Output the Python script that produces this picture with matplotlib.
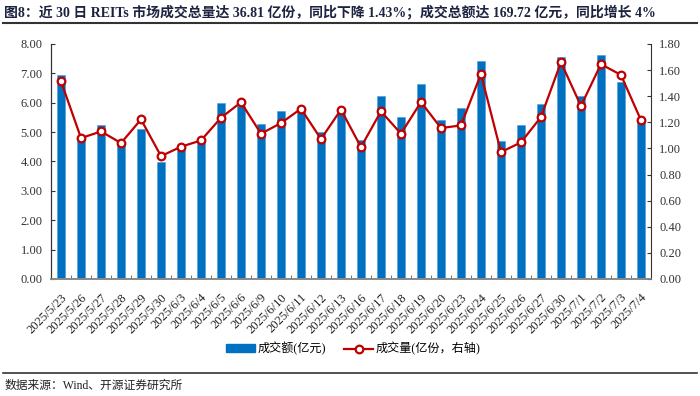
import numpy as np
import matplotlib
matplotlib.use("Agg")
import matplotlib.pyplot as plt
from matplotlib.lines import Line2D

plt.rcParams['font.family'] = ['Liberation Serif', 'Noto Sans CJK SC', 'DejaVu Sans']
plt.rcParams['axes.unicode_minus'] = False

dates = ["2025/5/23", "2025/5/26", "2025/5/27", "2025/5/28", "2025/5/29", "2025/5/30",
         "2025/6/3", "2025/6/4", "2025/6/5", "2025/6/6", "2025/6/9", "2025/6/10",
         "2025/6/11", "2025/6/12", "2025/6/13", "2025/6/16", "2025/6/17", "2025/6/18",
         "2025/6/19", "2025/6/20", "2025/6/23", "2025/6/24", "2025/6/25", "2025/6/26",
         "2025/6/27", "2025/6/30", "2025/7/1", "2025/7/2", "2025/7/3", "2025/7/4"]
# 成交额 (亿元), left axis
amount = [6.95, 4.80, 5.24, 4.62, 5.12, 3.99, 4.42, 4.68, 5.98, 5.90,
          5.27, 5.72, 5.72, 4.99, 5.65, 4.74, 6.24, 5.51, 6.65, 5.42,
          5.81, 7.41, 4.68, 5.24, 5.95, 7.56, 6.22, 7.61, 6.70, 5.35]
# 成交量 (亿份), right axis
volume = [1.514, 1.079, 1.130, 1.041, 1.222, 0.941, 1.013, 1.061, 1.235, 1.353,
          1.113, 1.194, 1.304, 1.072, 1.297, 1.010, 1.284, 1.113, 1.355, 1.156,
          1.176, 1.570, 0.972, 1.046, 1.240, 1.660, 1.325, 1.645, 1.563, 1.217]

bar_color = "#0070C0"
line_color = "#C00000"
x = np.arange(len(dates))

fig = plt.figure(figsize=(7, 3.96), dpi=100)
ax = fig.add_axes([0.0729, 0.2955, 0.857, 0.5935])
ax.bar(x, amount, width=0.38, color=bar_color, edgecolor="#4a9ad8", linewidth=0.4, zorder=2)
ax.set_xlim(-0.5, len(dates) - 0.5)
ax.set_ylim(0, 8)
ax.set_yticks(np.arange(0, 8.01, 1))
ax.set_yticklabels(["%.2f" % v for v in np.arange(0, 8.01, 1)], fontsize=9, color="#333333")

ax2 = ax.twinx()
ax2.plot(x, volume, color=line_color, lw=1.6, marker="o", ms=5.5,
         mfc="white", mec=line_color, mew=1.6, zorder=3)
ax2.set_ylim(0, 1.8)
ax2.set_yticks(np.arange(0, 1.81, 0.2))
ax2.set_yticklabels(["%.2f" % v for v in np.arange(0, 1.81, 0.2)], fontsize=9, color="#333333")

ax.set_xticks(x)
ax.set_xticklabels(dates, rotation=45, ha="right", rotation_mode="anchor", fontsize=9, color="#222222")
ax.set_xticks(np.arange(-0.5, len(dates), 1), minor=True)
ax.tick_params(axis="x", which="major", length=0, pad=9)
ax.tick_params(axis="x", which="minor", length=3, direction="in", color="#555555")
ax.tick_params(axis="y", direction="in", length=3, color="#333333", pad=6)
ax2.tick_params(axis="y", direction="in", length=3, color="#333333", pad=6)

for a in (ax, ax2):
    a.spines["top"].set_visible(False)
    a.spines["left"].set_color("#333333")
    a.spines["right"].set_color("#333333")
    a.spines["bottom"].set_color("#888888")
    a.spines["bottom"].set_linewidth(1.2)
ax.spines["right"].set_visible(False)

handles = [plt.Rectangle((0, 0), 1, 1, color=bar_color),
           Line2D([0], [0], color=line_color, lw=1.6, marker="o", ms=5.5,
                  mfc="white", mec=line_color, mew=1.6)]
fig.legend(handles, ["成交额(亿元)", "成交量(亿份，右轴)"], loc="center",
           bbox_to_anchor=(0.505, 0.119), ncol=2, frameon=False, fontsize=8.7,
           handlelength=2.4, handleheight=0.6, handletextpad=0.2, columnspacing=1.5)

fig.text(0.006, 0.970, "图8：近 30 日 REITs 市场成交总量达 36.81 亿份，同比下降 1.43%；成交总额达 169.72 亿元，同比增长 4%",
         fontsize=10, fontweight="bold", color="#1c2340", ha="left", va="center")
fig.add_artist(Line2D([0.004, 0.996], [0.942, 0.942], color="#333333", lw=1.5))
fig.add_artist(Line2D([0.004, 0.996], [0.057, 0.057], color="#333333", lw=1.2))
fig.text(0.006, 0.026, "数据来源：Wind、开源证券研究所", fontsize=8.5, color="#222222",
         ha="left", va="center")

fig.savefig("out.png", dpi=100)
